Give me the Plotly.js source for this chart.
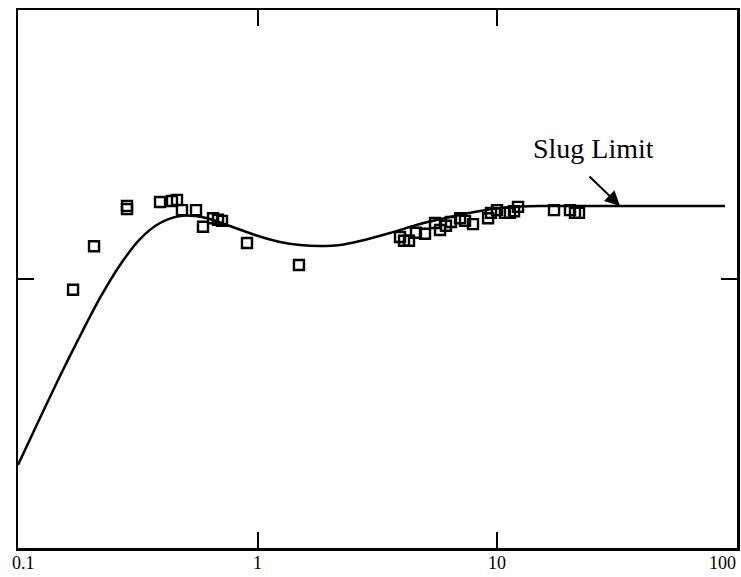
<!DOCTYPE html>
<html>
<head>
<meta charset="utf-8">
<script src="https://cdn.plot.ly/plotly-3.0.1.min.js"></script>
<style>html,body{margin:0;padding:0;background:#fff;}#chart{width:741px;height:577px;}</style>
</head>
<body>
<div id="chart"></div>
<script>
// Curve (model) values
const curveX = [0.1, 0.1235, 0.1497, 0.1815, 0.2198, 0.2665, 0.3228, 0.3914, 0.4742, 0.5477, 0.6325, 0.7667, 0.9747, 1.240, 1.502, 1.820, 2.206, 2.673, 3.566, 4.756, 6.346, 8.465, 11.29, 15.07, 32.5, 89.1];
const curveY = [0.1543, 0.2416, 0.3197, 0.3941, 0.4647, 0.5260, 0.5743, 0.6041, 0.6171, 0.6171, 0.6115, 0.5985, 0.5818, 0.5688, 0.5632, 0.5613, 0.5632, 0.5706, 0.5855, 0.6022, 0.6152, 0.6264, 0.6338, 0.6357, 0.6357, 0.6357];

// Measured data points
const dataX = [0.1697, 0.2076, 0.2850, 0.2850, 0.3914, 0.4391, 0.4607, 0.4833, 0.5530, 0.5913, 0.6513, 0.6832, 0.7099, 0.9026, 1.487,
  3.926, 4.080, 4.280, 4.577, 4.991, 5.495, 5.766, 6.107, 6.408, 6.987, 7.331, 7.915, 9.15, 9.41, 9.97, 10.76, 11.29, 11.74, 12.20, 17.24, 20.10, 21.09, 21.92];
const dataY = [0.480, 0.561, 0.636, 0.630, 0.643, 0.645, 0.647, 0.628, 0.628, 0.597, 0.613, 0.610, 0.608, 0.567, 0.526,
  0.578, 0.571, 0.571, 0.586, 0.584, 0.604, 0.591, 0.599, 0.606, 0.613, 0.608, 0.602, 0.613, 0.623, 0.628, 0.623, 0.623, 0.626, 0.634, 0.628, 0.628, 0.623, 0.623];

const xTickVals = [0.1, 1, 10, 100];
const xTickText = ['0.1', '1', '10', '100'];
const xMinorTicks = [1, 10];
const yTickVals = [0.5];
const labelText = 'Slug Limit';
const labelPos = [25.3, 0.742];
const arrowHead = [32.5, 0.6357];

const serif = 'Liberation Serif, Times New Roman, serif';

const traces = [
  {x: curveX, y: curveY, mode: 'lines', type: 'scatter', line: {color: '#000', width: 2.5, shape: 'spline', smoothing: 0.8}, hoverinfo: 'skip'},
  {x: dataX, y: dataY, mode: 'markers', type: 'scatter', marker: {symbol: 'square-open', size: 10, color: '#000', line: {width: 2.4, color: '#000'}}}
];

// tick labels as annotations so the edge labels align like the original
const anchors = ['left', 'center', 'center', 'right'];
const shifts = [-8, 0, 0, 1];
const tickAnn = xTickVals.map((v, i) => ({
  x: Math.log10(v), y: 0, xref: 'x', yref: 'paper', yanchor: 'top', xanchor: anchors[i],
  xshift: shifts[i], yshift: -3, text: xTickText[i], showarrow: false,
  font: {family: serif, size: 18, color: '#000'}
}));

const layout = {
  width: 741, height: 577,
  margin: {l: 18, r: 4, t: 10, b: 29},
  paper_bgcolor: '#fff', plot_bgcolor: '#fff',
  showlegend: false,
  font: {family: serif, color: '#000', size: 15},
  xaxis: {
    type: 'log', range: [-1, 2],
    tickvals: xMinorTicks, showticklabels: false,
    ticks: 'inside', ticklen: 16, tickwidth: 2, tickcolor: '#000',
    showline: true, linewidth: 2.5, linecolor: '#000', mirror: 'ticks',
    showgrid: false, zeroline: false
  },
  yaxis: {
    range: [0, 1],
    tickvals: yTickVals, showticklabels: false,
    ticks: 'inside', ticklen: 16, tickwidth: 2, tickcolor: '#000',
    showline: true, linewidth: 2.5, linecolor: '#000', mirror: 'ticks',
    showgrid: false, zeroline: false
  },
  annotations: tickAnn.concat([
    {x: Math.log10(labelPos[0]), y: labelPos[1], xref: 'x', yref: 'y', text: labelText, showarrow: false,
     font: {family: serif, size: 28, color: '#000'}},
    {x: Math.log10(arrowHead[0]), y: arrowHead[1], xref: 'x', yref: 'y', text: '', showarrow: true,
     ax: -32, ay: -31, arrowhead: 2, arrowsize: 1.5, arrowwidth: 2, arrowcolor: '#000', standoff: 0}
  ])
};

Plotly.newPlot('chart', traces, layout, {displayModeBar: false, staticPlot: true});
</script>
</body>
</html>
